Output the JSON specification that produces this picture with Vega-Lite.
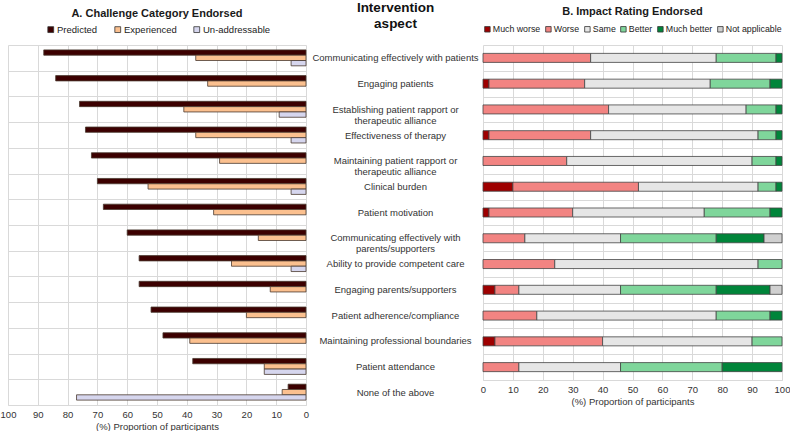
{
  "$schema": "https://vega.github.io/schema/vega-lite/v6.json",
  "background": "white",
  "padding": {"left": 0, "top": 0, "right": 0, "bottom": 0},
  "spacing": 177,
  "bounds": "flush",
  "config": {
    "font": "Liberation Sans",
    "view": {"stroke": null},
    "axis": {"labelColor": "#333333", "titleColor": "#333333", "gridColor": "#d9d9d9", "domainColor": "#d9d9d9", "ticks": false, "labelFontSize": 9.5, "titleFontSize": 9.5, "titleFontWeight": "normal", "labelFlush": false},
    "legend": {"labelFontSize": 9.5, "labelColor": "#222222", "symbolType": "square", "symbolSize": 34, "symbolStrokeColor": "#333333", "symbolStrokeWidth": 0.8, "labelOffset": 1.5, "title": null, "padding": 0},
    "title": {"fontSize": 11, "color": "#1a1a1a", "fontWeight": "bold"}
  },
  "datasets": {
    "left": [
      {"a": "Communicating effectively with patients", "c": "Predicted", "v": 88},
      {"a": "Communicating effectively with patients", "c": "Experienced", "v": 37},
      {"a": "Communicating effectively with patients", "c": "Un-addressable", "v": 5},
      {"a": "Engaging patients", "c": "Predicted", "v": 84},
      {"a": "Engaging patients", "c": "Experienced", "v": 33},
      {"a": "Establishing patient rapport or|therapeutic alliance", "c": "Predicted", "v": 76},
      {"a": "Establishing patient rapport or|therapeutic alliance", "c": "Experienced", "v": 41},
      {"a": "Establishing patient rapport or|therapeutic alliance", "c": "Un-addressable", "v": 9},
      {"a": "Effectiveness of therapy", "c": "Predicted", "v": 74},
      {"a": "Effectiveness of therapy", "c": "Experienced", "v": 37},
      {"a": "Effectiveness of therapy", "c": "Un-addressable", "v": 5},
      {"a": "Maintaining patient rapport or|therapeutic alliance", "c": "Predicted", "v": 72},
      {"a": "Maintaining patient rapport or|therapeutic alliance", "c": "Experienced", "v": 29},
      {"a": "Clinical burden", "c": "Predicted", "v": 70},
      {"a": "Clinical burden", "c": "Experienced", "v": 53},
      {"a": "Clinical burden", "c": "Un-addressable", "v": 5},
      {"a": "Patient motivation", "c": "Predicted", "v": 68},
      {"a": "Patient motivation", "c": "Experienced", "v": 31},
      {"a": "Communicating effectively with|parents/supporters", "c": "Predicted", "v": 60},
      {"a": "Communicating effectively with|parents/supporters", "c": "Experienced", "v": 16},
      {"a": "Ability to provide competent care", "c": "Predicted", "v": 56},
      {"a": "Ability to provide competent care", "c": "Experienced", "v": 25},
      {"a": "Ability to provide competent care", "c": "Un-addressable", "v": 5},
      {"a": "Engaging parents/supporters", "c": "Predicted", "v": 56},
      {"a": "Engaging parents/supporters", "c": "Experienced", "v": 12},
      {"a": "Patient adherence/compliance", "c": "Predicted", "v": 52},
      {"a": "Patient adherence/compliance", "c": "Experienced", "v": 20},
      {"a": "Maintaining professional boundaries", "c": "Predicted", "v": 48},
      {"a": "Maintaining professional boundaries", "c": "Experienced", "v": 39},
      {"a": "Patient attendance", "c": "Predicted", "v": 38},
      {"a": "Patient attendance", "c": "Experienced", "v": 14},
      {"a": "Patient attendance", "c": "Un-addressable", "v": 14},
      {"a": "None of the above", "c": "Predicted", "v": 6},
      {"a": "None of the above", "c": "Experienced", "v": 8},
      {"a": "None of the above", "c": "Un-addressable", "v": 77}
    ],
    "right": [
      {"a": "Communicating effectively with patients", "r": "Worse", "v": 36},
      {"a": "Communicating effectively with patients", "r": "Same", "v": 42},
      {"a": "Communicating effectively with patients", "r": "Better", "v": 20},
      {"a": "Communicating effectively with patients", "r": "Much better", "v": 2},
      {"a": "Engaging patients", "r": "Much worse", "v": 2},
      {"a": "Engaging patients", "r": "Worse", "v": 32},
      {"a": "Engaging patients", "r": "Same", "v": 42},
      {"a": "Engaging patients", "r": "Better", "v": 20},
      {"a": "Engaging patients", "r": "Much better", "v": 4},
      {"a": "Establishing patient rapport or|therapeutic alliance", "r": "Worse", "v": 42},
      {"a": "Establishing patient rapport or|therapeutic alliance", "r": "Same", "v": 46},
      {"a": "Establishing patient rapport or|therapeutic alliance", "r": "Better", "v": 10},
      {"a": "Establishing patient rapport or|therapeutic alliance", "r": "Much better", "v": 2},
      {"a": "Effectiveness of therapy", "r": "Much worse", "v": 2},
      {"a": "Effectiveness of therapy", "r": "Worse", "v": 34},
      {"a": "Effectiveness of therapy", "r": "Same", "v": 56},
      {"a": "Effectiveness of therapy", "r": "Better", "v": 6},
      {"a": "Effectiveness of therapy", "r": "Much better", "v": 2},
      {"a": "Maintaining patient rapport or|therapeutic alliance", "r": "Worse", "v": 28},
      {"a": "Maintaining patient rapport or|therapeutic alliance", "r": "Same", "v": 62},
      {"a": "Maintaining patient rapport or|therapeutic alliance", "r": "Better", "v": 8},
      {"a": "Maintaining patient rapport or|therapeutic alliance", "r": "Much better", "v": 2},
      {"a": "Clinical burden", "r": "Much worse", "v": 10},
      {"a": "Clinical burden", "r": "Worse", "v": 42},
      {"a": "Clinical burden", "r": "Same", "v": 40},
      {"a": "Clinical burden", "r": "Better", "v": 6},
      {"a": "Clinical burden", "r": "Much better", "v": 2},
      {"a": "Patient motivation", "r": "Much worse", "v": 2},
      {"a": "Patient motivation", "r": "Worse", "v": 28},
      {"a": "Patient motivation", "r": "Same", "v": 44},
      {"a": "Patient motivation", "r": "Better", "v": 22},
      {"a": "Patient motivation", "r": "Much better", "v": 4},
      {"a": "Communicating effectively with|parents/supporters", "r": "Worse", "v": 14},
      {"a": "Communicating effectively with|parents/supporters", "r": "Same", "v": 32},
      {"a": "Communicating effectively with|parents/supporters", "r": "Better", "v": 32},
      {"a": "Communicating effectively with|parents/supporters", "r": "Much better", "v": 16},
      {"a": "Communicating effectively with|parents/supporters", "r": "Not applicable", "v": 6},
      {"a": "Ability to provide competent care", "r": "Worse", "v": 24},
      {"a": "Ability to provide competent care", "r": "Same", "v": 68},
      {"a": "Ability to provide competent care", "r": "Better", "v": 8},
      {"a": "Engaging parents/supporters", "r": "Much worse", "v": 4},
      {"a": "Engaging parents/supporters", "r": "Worse", "v": 8},
      {"a": "Engaging parents/supporters", "r": "Same", "v": 34},
      {"a": "Engaging parents/supporters", "r": "Better", "v": 32},
      {"a": "Engaging parents/supporters", "r": "Much better", "v": 18},
      {"a": "Engaging parents/supporters", "r": "Not applicable", "v": 4},
      {"a": "Patient adherence/compliance", "r": "Worse", "v": 18},
      {"a": "Patient adherence/compliance", "r": "Same", "v": 60},
      {"a": "Patient adherence/compliance", "r": "Better", "v": 18},
      {"a": "Patient adherence/compliance", "r": "Much better", "v": 4},
      {"a": "Maintaining professional boundaries", "r": "Much worse", "v": 4},
      {"a": "Maintaining professional boundaries", "r": "Worse", "v": 36},
      {"a": "Maintaining professional boundaries", "r": "Same", "v": 50},
      {"a": "Maintaining professional boundaries", "r": "Better", "v": 10},
      {"a": "Patient attendance", "r": "Worse", "v": 12},
      {"a": "Patient attendance", "r": "Same", "v": 34},
      {"a": "Patient attendance", "r": "Better", "v": 34},
      {"a": "Patient attendance", "r": "Much better", "v": 20}
    ]
  },
  "hconcat": [
    {
      "width": 298,
      "height": 360,
      "data": {"name": "left"},
      "title": {"text": "A. Challenge Category Endorsed", "offset": -19},
      "mark": {"type": "bar", "stroke": "#4a3a30", "strokeWidth": 0.8},
      "encoding": {
        "y": {
          "field": "a", "type": "nominal", "sort": null,
          "scale": {"paddingInner": 0, "paddingOuter": 0},
          "axis": {
            "orient": "right", "title": ["Intervention", "aspect"], "titleAngle": 0, "titleX": 89, "titleY": -45,
            "titleAlign": "center", "titleBaseline": "top", "titleFontSize": 13.5, "titleLineHeight": 16.5, "titleFontWeight": "bold", "titleColor": "#111111",
            "domain": false, "labelAlign": "center", "labelBaseline": "middle", "labelPadding": 89, "labelExpr": "split(datum.label, '|')",
            "labelFontSize": 9.5, "labelLineHeight": 11, "labelLimit": 190, "labelColor": "#333333",
            "grid": true, "tickBand": "extent"
          }
        },
        "yOffset": {"field": "c", "type": "nominal", "sort": ["Predicted", "Experienced", "Un-addressable"], "scale": {"paddingInner": 0, "paddingOuter": 0.92}},
        "x": {
          "field": "v", "type": "quantitative",
          "scale": {"domain": [0, 100], "reverse": true},
          "axis": {"values": [0, 10, 20, 30, 40, 50, 60, 70, 80, 90, 100], "title": "(%) Proportion of participants", "grid": true, "labelPadding": 4, "titlePadding": 3, "domain": true}
        },
        "color": {
          "field": "c", "type": "nominal",
          "sort": ["Predicted", "Experienced", "Un-addressable"],
          "scale": {"domain": ["Predicted", "Experienced", "Un-addressable"], "range": ["#3c0000", "#fbc08f", "#d6d6ee"]},
          "legend": {"orient": "none", "direction": "horizontal", "legendX": 38, "legendY": -20.5, "columnPadding": 15}
        }
      }
    },
    {
      "width": 299,
      "height": 335,
      "data": {"name": "right"},
      "transform": [
        {"calculate": "indexof(['Much worse', 'Worse', 'Same', 'Better', 'Much better', 'Not applicable'], datum.r)", "as": "k"}
      ],
      "title": {"text": "B. Impact Rating Endorsed", "offset": 8},
      "mark": {"type": "bar", "height": {"band": 0.35}, "stroke": "#444444", "strokeWidth": 0.8},
      "encoding": {
        "y": {
          "field": "a", "type": "nominal", "sort": null,
          "scale": {"paddingInner": 0, "paddingOuter": 0},
          "axis": {"title": null, "labels": false, "domain": false, "grid": true, "tickBand": "extent"}
        },
        "x": {
          "field": "v", "type": "quantitative", "stack": "zero",
          "scale": {"domain": [0, 100]},
          "axis": {"values": [0, 10, 20, 30, 40, 50, 60, 70, 80, 90, 100], "title": "(%) Proportion of participants", "grid": true, "labelPadding": 4, "titlePadding": 3, "domain": true}
        },
        "order": {"field": "k", "type": "quantitative", "sort": "ascending"},
        "color": {
          "field": "r", "type": "nominal",
          "sort": ["Much worse", "Worse", "Same", "Better", "Much better", "Not applicable"],
          "scale": {"domain": ["Much worse", "Worse", "Same", "Better", "Much better", "Not applicable"], "range": ["#9e0000", "#f28482", "#e6e6e6", "#7fd69b", "#00853a", "#d0d0d0"]},
          "legend": {"orient": "none", "direction": "horizontal", "legendX": 0, "legendY": -20.5, "columnPadding": 3, "labelFontSize": 8.8, "symbolSize": 30, "labelOffset": 1}
        }
      }
    }
  ],
  "resolve": {"scale": {"color": "independent", "y": "independent"}}
}
